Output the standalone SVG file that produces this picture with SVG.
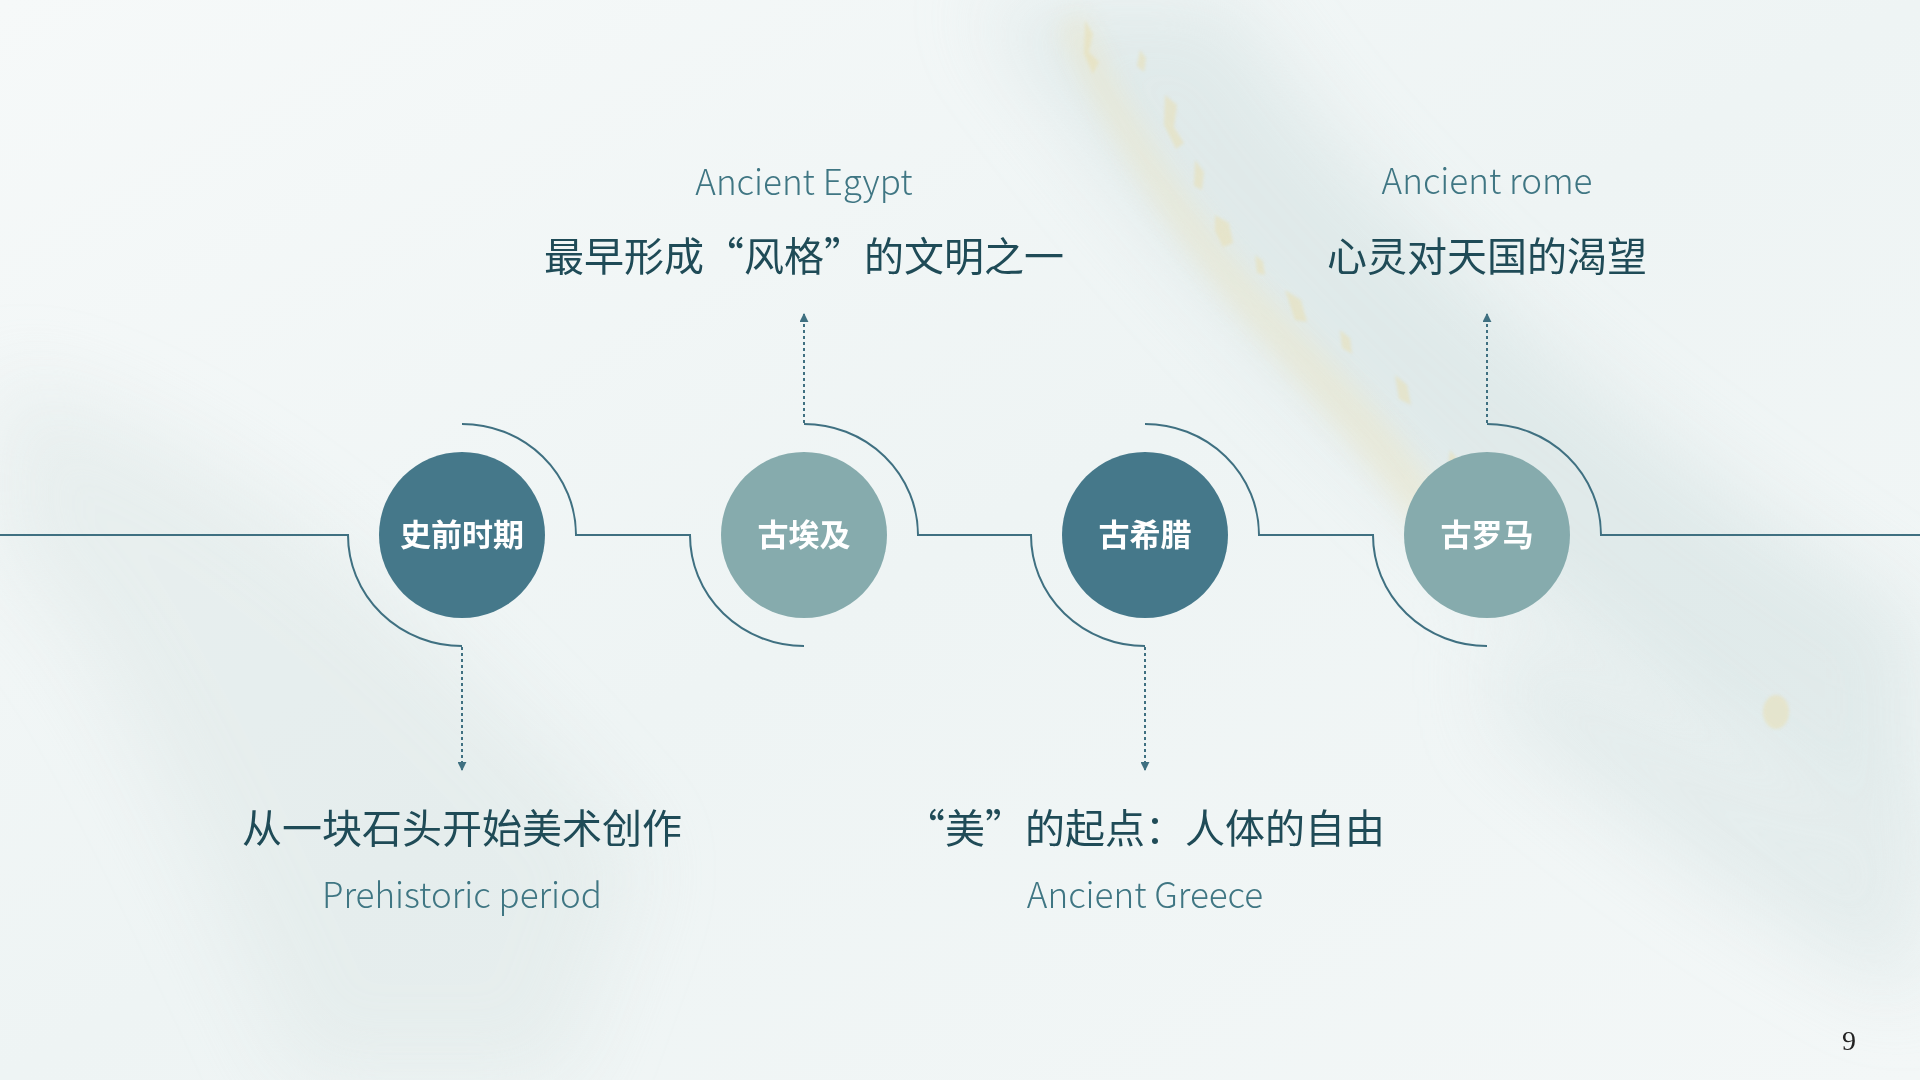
<svg xmlns="http://www.w3.org/2000/svg" width="1920" height="1080" viewBox="0 0 1920 1080">
  <defs>
    <style>
      .line { fill: none; stroke: #3f7081; stroke-width: 2; }
      .dot { fill: none; stroke: #3f7081; stroke-width: 2; stroke-dasharray: 3 3; }
      .dark { fill: #45788a; }
      .light { fill: #86abad; }
      .label { font-family: "Noto Sans CJK SC", "Noto Sans", sans-serif; font-size: 31px; font-weight: 700; fill: #ffffff; text-anchor: middle; }
      .zh { font-family: "Noto Sans CJK SC", sans-serif; font-size: 40px; font-weight: 400; fill: #1f4b57; text-anchor: middle; }
      .en { font-family: "Noto Sans CJK SC", "Noto Sans", sans-serif; font-size: 35px; font-weight: 300; fill: #3f7683; text-anchor: middle; }
    </style>
    <marker id="arrow" viewBox="0 0 10 10" refX="9" refY="5" markerWidth="9" markerHeight="9" markerUnits="userSpaceOnUse" orient="auto">
      <path d="M0,0 L10,5 L0,10 Z" fill="#3f7081"/>
    </marker>
    <linearGradient id="bg" x1="0" y1="0" x2="1" y2="1">
      <stop offset="0" stop-color="#f6f9f9"/>
      <stop offset="0.5" stop-color="#eef4f4"/>
      <stop offset="1" stop-color="#f3f7f7"/>
    </linearGradient>
    <filter id="blur40" x="-50%" y="-50%" width="200%" height="200%"><feGaussianBlur stdDeviation="40"/></filter>
    <filter id="blur12" x="-50%" y="-50%" width="200%" height="200%"><feGaussianBlur stdDeviation="12"/></filter>
    <filter id="blur2" x="-50%" y="-50%" width="200%" height="200%"><feGaussianBlur stdDeviation="1.5"/></filter>
  </defs>

  <!-- background -->
  <rect x="0" y="0" width="1920" height="1080" fill="url(#bg)"/>
  <g opacity="0.55">
    <path d="M980,0 L1230,0 C1350,200 1600,420 1920,620 L1920,900 C1650,700 1300,450 980,0 Z" fill="#d3e1e1" filter="url(#blur40)"/>
    <path d="M0,380 C200,420 420,600 640,860 L560,1080 L300,1080 C180,820 80,600 0,560 Z" fill="#dfe8e7" filter="url(#blur40)"/>
    <path d="M1500,620 C1650,700 1800,800 1920,820 L1920,1000 C1780,940 1620,820 1500,720 Z" fill="#d8e4e4" filter="url(#blur40)"/>
  </g>
  <g opacity="0.45" filter="url(#blur12)">
    <path d="M1080,10 C1130,120 1200,230 1300,330 C1380,410 1430,470 1480,560 L1455,580 C1400,500 1340,430 1270,350 C1180,250 1110,140 1060,30 Z" fill="#ebe4c2"/>
  </g>
  <g opacity="0.55" filter="url(#blur2)" fill="#e8dfb4">
    <path d="M1085,20 l8,14 l-4,18 l10,10 l-6,12 l-9,-20 z"/>
    <path d="M1140,50 l6,8 l-2,14 l-7,-6 z"/>
    <path d="M1165,95 l12,10 l-3,22 l10,16 l-8,6 l-12,-24 z"/>
    <path d="M1195,160 l9,12 l-2,18 l-8,-4 z"/>
    <path d="M1215,215 l14,8 l4,20 l-10,4 l-8,-16 z"/>
    <path d="M1255,255 l8,6 l2,14 l-8,-2 z"/>
    <path d="M1285,290 l16,10 l6,22 l-12,-2 z"/>
    <path d="M1340,330 l10,8 l2,16 l-10,-6 z"/>
    <path d="M1395,375 l12,10 l4,20 l-12,-6 z"/>
    <path d="M1450,450 l8,10 l-2,14 l-8,-6 z"/>
    <path d="M1490,520 l8,8 l0,12 l-8,-6 z"/>
    <ellipse cx="1776" cy="712" rx="13" ry="17"/>
  </g>

  <!-- connectors -->
  <g id="connectors">
    <path class="line" d="M0,535 H348 A114,111 0 0 0 462,646"/>
    <path class="line" d="M462,424 A114,111 0 0 1 576,535 H690 A114,111 0 0 0 804,646"/>
    <path class="line" d="M804,424 A114,111 0 0 1 918,535 H1031 A114,111 0 0 0 1145,646"/>
    <path class="line" d="M1145,424 A114,111 0 0 1 1259,535 H1373 A114,111 0 0 0 1487,646"/>
    <path class="line" d="M1487,424 A114,111 0 0 1 1601,535 H1920"/>
    <line class="dot" x1="462" y1="647" x2="462" y2="770" marker-end="url(#arrow)"/>
    <line class="dot" x1="804" y1="423" x2="804" y2="314" marker-end="url(#arrow)"/>
    <line class="dot" x1="1145" y1="647" x2="1145" y2="770" marker-end="url(#arrow)"/>
    <line class="dot" x1="1487" y1="423" x2="1487" y2="314" marker-end="url(#arrow)"/>
  </g>

  <g id="node-prehistoric">
    <circle class="dark" cx="462" cy="535" r="83"/>
    <text class="label" x="462" y="546">史前时期</text>
    <text class="zh" x="462" y="843">从一块石头开始美术创作</text>
    <text class="en" x="462" y="908">Prehistoric period</text>
  </g>

  <g id="node-egypt">
    <circle class="light" cx="804" cy="535" r="83"/>
    <text class="label" x="804" y="546">古埃及</text>
    <text class="en" x="804" y="195">Ancient Egypt</text>
    <text class="zh" x="804" y="271">最早形成“风格”的文明之一</text>
  </g>

  <g id="node-greece">
    <circle class="dark" cx="1145" cy="535" r="83"/>
    <text class="label" x="1145" y="546">古希腊</text>
    <text class="zh" x="1145" y="843">“美”的起点：人体的自由</text>
    <text class="en" x="1145" y="908">Ancient Greece</text>
  </g>

  <g id="node-rome">
    <circle class="light" cx="1487" cy="535" r="83"/>
    <text class="label" x="1487" y="546">古罗马</text>
    <text class="en" x="1487" y="194">Ancient rome</text>
    <text class="zh" x="1487" y="271">心灵对天国的渴望</text>
  </g>

  <text x="1849" y="1050" font-family="Liberation Serif, serif" font-size="28" fill="#222222" text-anchor="middle">9</text>
</svg>
